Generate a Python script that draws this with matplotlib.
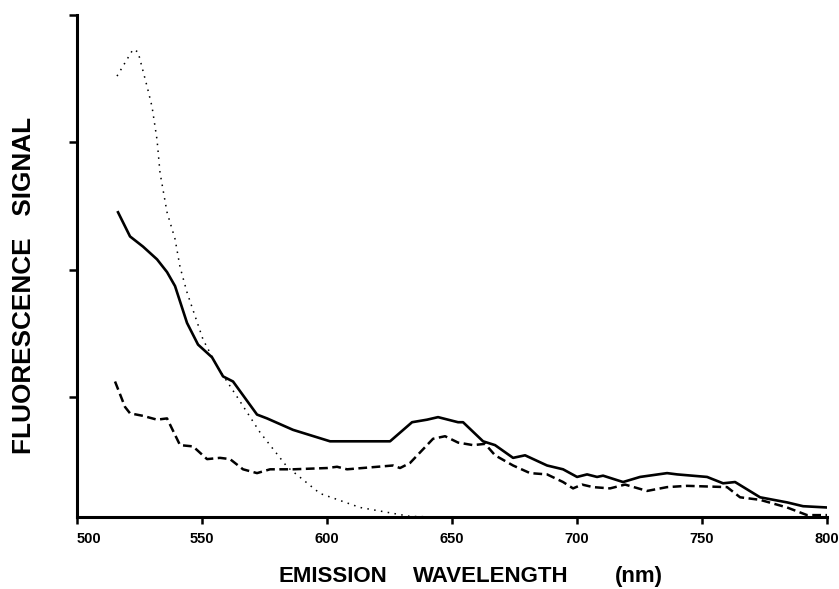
import numpy as np
import matplotlib
matplotlib.use("Agg")
import matplotlib.pyplot as plt

plt.rcParams['font.family'] = ['Liberation Sans', 'DejaVu Sans']

# -----------------------------
# data (wavelength nm, signal arb. units)
# -----------------------------

dot_wl = [516, 522.4, 524.4, 528, 530, 532, 533.2, 536, 539.2, 541.2, 544,
          550.4, 556, 564, 573.2, 584, 597.2, 613.2, 633.2, 645]
dot_sig = [3.52, 3.73, 3.71, 3.44, 3.28, 3.02, 2.76, 2.45, 2.24, 2.02, 1.82,
           1.45, 1.24, 1.00, 0.72, 0.45, 0.24, 0.13, 0.06, 0.055]

solid_wl = [516.4, 521.2, 526.4, 532, 536, 539.2, 544, 548.4, 554, 558.4, 562.4,
            572, 576, 586.4, 601.2, 625.2, 634, 640, 644.4, 652.4, 654.4, 662.4,
            667.2, 674.4, 679.2, 688, 694.4, 700, 704, 708, 710.4, 718.4, 725.2,
            736, 740, 752, 758.4, 763.2, 773.2, 784, 790.4, 800]
solid_sig = [2.45, 2.26, 2.18, 2.08, 1.98, 1.87, 1.58, 1.41, 1.31, 1.16, 1.12,
             0.86, 0.83, 0.74, 0.65, 0.65, 0.80, 0.82, 0.84, 0.80, 0.80, 0.65,
             0.62, 0.52, 0.54, 0.46, 0.43, 0.37, 0.39, 0.37, 0.38, 0.33, 0.37,
             0.40, 0.39, 0.37, 0.32, 0.33, 0.21, 0.17, 0.14, 0.13]

dash_wl = [515.2, 519.2, 521.2, 526.4, 532, 536, 541.2, 546.4, 552, 557.2, 561.2,
           566.4, 572, 577.2, 586.4, 600, 604, 608, 626.4, 629.2, 633.2, 642.4,
           647.2, 652.4, 658.4, 663.2, 667.2, 674.4, 681.2, 688, 694.4, 698.4,
           702, 706.4, 713.2, 719.2, 728, 736, 744, 760, 765.2, 773.2, 784, 792, 800]
dash_sig = [1.12, 0.92, 0.87, 0.85, 0.82, 0.83, 0.62, 0.61, 0.51, 0.52, 0.51,
            0.43, 0.40, 0.43, 0.43, 0.44, 0.45, 0.43, 0.46, 0.44, 0.48, 0.67,
            0.69, 0.64, 0.62, 0.63, 0.54, 0.46, 0.40, 0.39, 0.33, 0.28,
            0.31, 0.29, 0.28, 0.31, 0.26, 0.29, 0.30, 0.29, 0.21, 0.19, 0.13, 0.07, 0.07]

x_ticks = [500, 550, 600, 650, 700, 750, 800]
y_ticks = [1, 2, 3, 4]

xlabel_words = ["EMISSION", "WAVELENGTH", "(nm)"]
ylabel_text = "FLUORESCENCE   SIGNAL"

# -----------------------------
# plot
# -----------------------------

fig = plt.figure(figsize=(8.39, 5.89), dpi=100)
ax = fig.add_axes([0.0918, 0.1222, 0.894, 0.8523])

ax.plot(dot_wl, dot_sig, color="black", lw=1.1, linestyle=(0, (1, 3.5)))
ax.plot(solid_wl, solid_sig, color="black", lw=1.9)
ax.plot(dash_wl, dash_sig, color="black", lw=1.8, linestyle=(0, (3.5, 1.8)))

ax.set_xlim(500, 800)
ax.set_ylim(0.055, 4)
ax.set_xticks(x_ticks)
ax.set_yticks(y_ticks)
ax.set_yticklabels([])
ax.set_xticklabels([str(t) for t in x_ticks], fontsize=10.5, fontweight="bold")
# first label sits just right of the corner
ax.get_xticklabels()[0].set_ha("left")

for s in ["top", "right"]:
    ax.spines[s].set_visible(False)
for s in ["left", "bottom"]:
    ax.spines[s].set_linewidth(2.2)

ax.tick_params(axis="x", direction="out", length=5, width=1.8, pad=6)
ax.tick_params(axis="y", direction="out", length=6, width=1.8)

# x label drawn word by word, widely spaced like the original
for word, xpos in zip(xlabel_words, [0.3963, 0.5852, 0.7616]):
    fig.text(xpos, 0.022, word, ha="center", va="center",
             fontsize=16, fontweight="bold")

fig.text(0.0286, 0.516, ylabel_text, ha="center", va="center",
         rotation=90, fontsize=18.8, fontweight="bold")

fig.savefig("out.png", dpi=100)
